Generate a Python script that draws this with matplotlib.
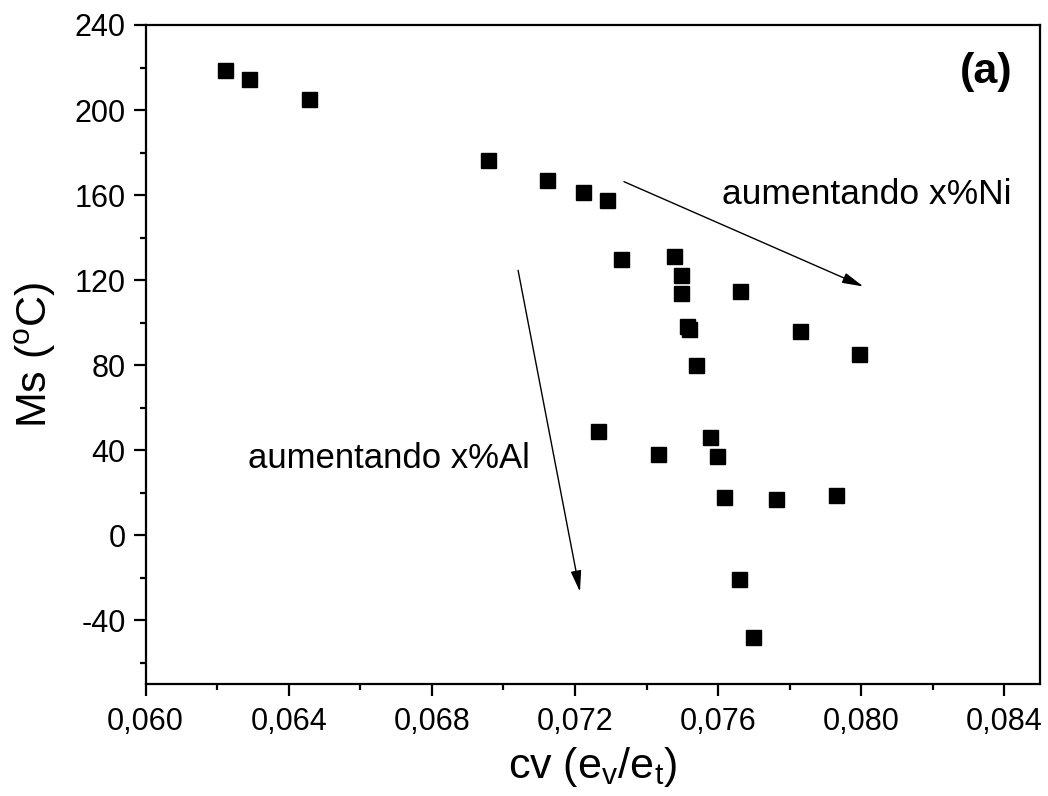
import matplotlib
matplotlib.use("Agg")
import matplotlib.pyplot as plt
from matplotlib.ticker import MultipleLocator, FuncFormatter

plt.rcParams['font.family'] = ['Liberation Sans', 'DejaVu Sans']
plt.rcParams['mathtext.fontset'] = 'custom'
plt.rcParams['mathtext.rm'] = 'Liberation Sans'
plt.rcParams['mathtext.it'] = 'Liberation Sans'

cv = [0.06223, 0.06290, 0.06456, 0.06956, 0.07121, 0.07223, 0.07289,
      0.07329, 0.07477, 0.07496, 0.07496, 0.07662, 0.07512, 0.07518,
      0.07537, 0.07829, 0.07994, 0.07265, 0.07431, 0.07577, 0.07598,
      0.07617, 0.07763, 0.07930, 0.07658, 0.07698]
ms = [218.6, 214.7, 205.1, 176.5, 166.9, 161.6, 157.5,
      130.1, 131.2, 122.3, 114.0, 115.1, 98.5, 96.8,
      80.0, 96.1, 85.0, 49.0, 38.0, 46.0, 37.1,
      18.0, 17.1, 18.9, -20.8, -47.9]

ni_arrow = [(0.07337, 166.3), (0.08006, 117.0)]
al_arrow = [(0.07041, 124.6), (0.07214, -26.6)]

fig = plt.figure(figsize=(10.48, 7.96), dpi=100)
ax = fig.add_axes([0.139, 0.1407, 0.8534, 0.8279])

ax.plot(cv, ms, linestyle='none', marker='s', color='black', markersize=10.8)

ax.set_xlim(0.060, 0.085)
ax.set_ylim(-70, 240)
ax.xaxis.set_major_locator(MultipleLocator(0.004))
ax.xaxis.set_minor_locator(MultipleLocator(0.002))
ax.yaxis.set_major_locator(MultipleLocator(40))
ax.yaxis.set_minor_locator(MultipleLocator(20))
ax.xaxis.set_major_formatter(FuncFormatter(lambda v, p: f"{v:.3f}".replace('.', ',')))
ax.yaxis.set_major_formatter(FuncFormatter(lambda v, p: f"{v:.0f}"))

for s in ax.spines.values():
    s.set_linewidth(1.6)
ax.tick_params(which='major', direction='out', length=8.5, width=1.6, labelsize=22)
ax.tick_params(axis='x', which='major', pad=8)
ax.tick_params(axis='y', which='major', pad=6)
ax.tick_params(which='minor', direction='out', length=4.3, width=1.6)

ax.set_xlabel(r'cv (e$_\mathregular{v}$/e$_\mathregular{t}$)', fontsize=31, labelpad=6)
ax.set_ylabel(r'Ms ($\mathregular{^{o}}$C)', fontsize=31, labelpad=12)

arrowstyle = '-|>,head_length=0.8,head_width=0.2'
ax.annotate('', xy=ni_arrow[1], xytext=ni_arrow[0],
            arrowprops=dict(arrowstyle=arrowstyle, color='black', lw=1.0,
                            mutation_scale=16, shrinkA=0, shrinkB=0))
ax.annotate('', xy=al_arrow[1], xytext=al_arrow[0],
            arrowprops=dict(arrowstyle=arrowstyle, color='black', lw=1.0,
                            mutation_scale=16, shrinkA=0, shrinkB=0))

ax.text(0.07612, 160.2, 'aumentando x%Ni', fontsize=25.5, va='center', ha='left')
ax.text(0.06286, 36.2, 'aumentando x%Al', fontsize=25, va='center', ha='left')
ax.text(0.969, 0.929, '(a)', transform=ax.transAxes, fontsize=31,
        fontweight='bold', ha='right', va='center')

fig.savefig('out.png', dpi=100)
